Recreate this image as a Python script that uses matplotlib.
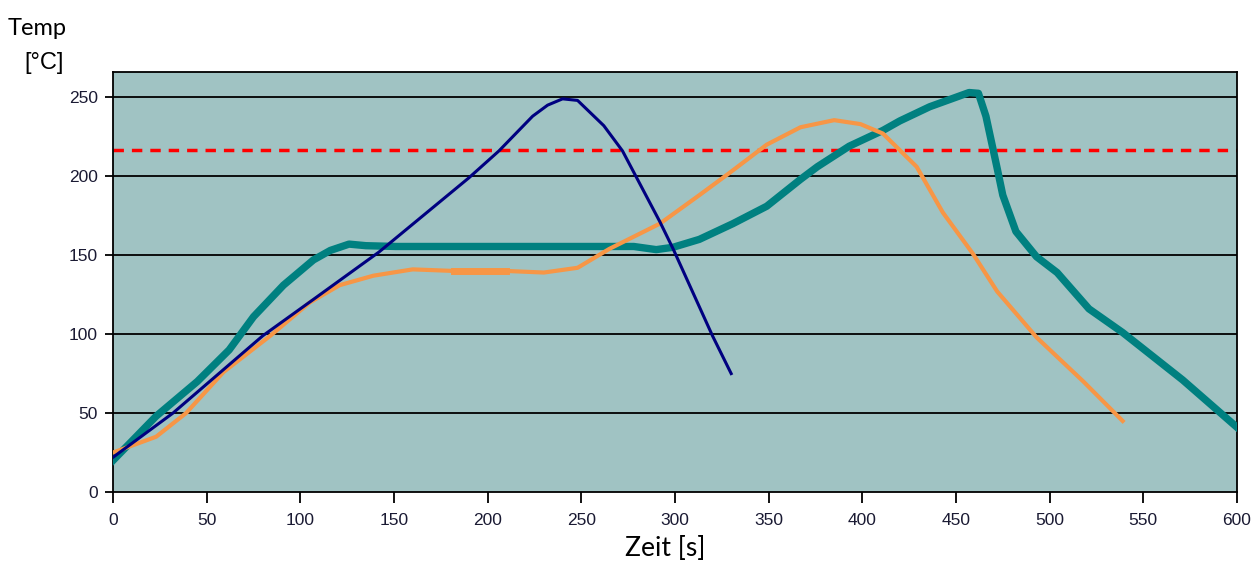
import numpy as np
import matplotlib
matplotlib.use("Agg")
import matplotlib.pyplot as plt

teal_t = [0, 23, 45, 62, 75, 91, 107, 116, 126, 135, 151, 224, 278, 290, 299, 313, 331,
          349, 367, 376, 393, 411, 420, 436, 457, 462, 466, 472, 475, 482, 493, 504,
          521, 539, 571, 600]
teal_T = [20, 48, 70, 90, 111, 131, 147, 153, 157, 156, 155.5, 155.5, 155.5, 153.5, 155, 160,
          170, 181, 198, 206, 219, 229, 235, 244, 253, 252.5, 238, 205, 188, 165, 149, 139,
          116, 101, 71, 41]

blue_t = [0, 32, 80, 107, 142, 190, 206, 224, 232, 240, 248, 262, 272, 280, 292, 299,
          320, 330]
blue_T = [22, 50, 99, 122, 152, 199, 216, 238, 245, 249, 248, 232, 216, 198, 171, 154,
          99, 75]

orange_t = [0, 23, 39, 59, 84, 105, 121, 139, 160, 182, 210, 230, 248, 265, 292, 313,
            329, 349, 367, 385, 399, 411, 429, 443, 459, 472, 493, 518, 539]
orange_T = [25, 35, 50, 76, 99, 120, 131, 137, 141, 140, 140, 139, 142, 154, 170, 188,
            202, 220, 231, 235.5, 233, 227, 206, 177, 151, 127, 98, 70, 45]

limit_T = 216.5
x_ticks = list(range(0, 601, 50))
y_ticks = list(range(0, 251, 50))

fig = plt.figure(figsize=(12.6, 5.7), dpi=100)
ax = fig.add_axes([0.0897, 0.1368, 0.892, 0.7369])
ax.set_facecolor('#A0C3C3')

for y in y_ticks[1:]:
    ax.axhline(y, color='black', lw=1.3, zorder=1)

ax.axhline(limit_T, color='#FF0000', lw=2.5, dashes=(3.0, 2.3), zorder=2)
ax.plot(teal_t, teal_T, color='#008080', lw=5.3, solid_joinstyle='round', zorder=3)
ax.plot(orange_t, orange_T, color='#F79646', lw=3, solid_joinstyle='round', zorder=4)
# slightly thicker stretch of the orange trace
seg = [(t, v) for t, v in zip(orange_t, orange_T) if 182 <= t <= 210]
ax.plot([s[0] for s in seg], [s[1] for s in seg], color='#F79646', lw=5, zorder=4)
ax.plot(blue_t, blue_T, color='#000080', lw=2.2, solid_joinstyle='round', zorder=5)

ax.set_xlim(0, 600)
ax.set_ylim(0, 266)
ax.set_xticks(x_ticks)
ax.set_yticks(y_ticks)
ax.tick_params(axis='x', direction='out', length=8, width=1.3, pad=7,
               labelsize=12.5, labelcolor='#1a1a33')
ax.tick_params(axis='y', direction='out', length=6, width=1.3, pad=5,
               labelsize=12.5, labelcolor='#1a1a33')
for lab in ax.get_xticklabels() + ax.get_yticklabels():
    lab.set_family('Liberation Sans')
for sp in ax.spines.values():
    sp.set_color('black')
    sp.set_linewidth(1.3)

fig.text(0.006, 0.95, 'Temp', fontsize=17, family='Lato', va='center', ha='left')
fig.text(0.019, 0.89, '[°C]', fontsize=17, family='Liberation Sans', va='center', ha='left')
ax.set_xlabel('Zeit [s]', fontsize=19, family='Lato')
ax.xaxis.set_label_coords(0.491, -0.105)

fig.savefig('out.png', dpi=100)
